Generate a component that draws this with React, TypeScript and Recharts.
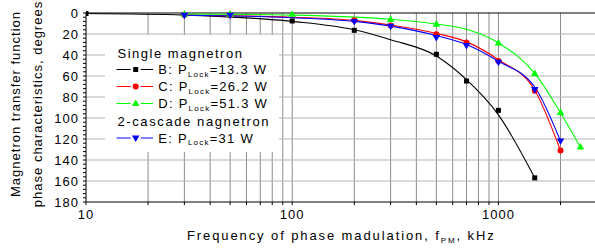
import { ComposedChart, Line, Scatter, XAxis, YAxis, ReferenceLine, Legend } from 'recharts';

// x ticks (kHz, log axis)
const xLabels = [10, 100, 1000];
const xTicks = [10, 20, 30, 40, 50, 60, 70, 80, 90, 100, 200, 300, 400, 500, 600, 700, 800, 900, 1000, 2000];
// y ticks (degrees, reversed)
const yLabels = [0, 20, 40, 60, 80, 100, 120, 140, 160, 180];
const yTicks = Array.from({ length: 46 }, (_, i) => i * 4);

// measured points
const ptsB = [
  { f: 10, v: 0.5 }, { f: 100, v: 7.6 }, { f: 200, v: 16.5 }, { f: 500, v: 39.3 },
  { f: 700, v: 64.8 }, { f: 1000, v: 92.7 }, { f: 1500, v: 157 },
];
const ptsC = [
  { f: 30, v: 2 }, { f: 50, v: 2.2 }, { f: 200, v: 7 }, { f: 300, v: 12 }, { f: 500, v: 20.3 },
  { f: 700, v: 28.2 }, { f: 1000, v: 45.7 }, { f: 1500, v: 74 }, { f: 2000, v: 131 },
];
const ptsD = [
  { f: 30, v: 1 }, { f: 50, v: 1 }, { f: 100, v: 1.2 }, { f: 300, v: 6 }, { f: 500, v: 10.5 },
  { f: 1000, v: 28.5 }, { f: 1500, v: 57.7 }, { f: 2000, v: 94.6 }, { f: 2500, v: 127.6 },
];
const ptsE = [
  { f: 30, v: 2.2 }, { f: 50, v: 2.2 }, { f: 200, v: 8.2 }, { f: 300, v: 12.7 }, { f: 500, v: 23.4 },
  { f: 700, v: 31 }, { f: 1000, v: 47 }, { f: 1500, v: 73 }, { f: 2000, v: 122 },
];

// fitted curves
const fitB = [
  { f: 10, v: 0.5 }, { f: 30, v: 2 }, { f: 100, v: 8 }, { f: 200, v: 16 }, { f: 300, v: 25.5 },
  { f: 500, v: 41 }, { f: 700, v: 63.5 }, { f: 1000, v: 97 }, { f: 1500, v: 157 },
];
const fitC = [
  { f: 30, v: 2 }, { f: 100, v: 4 }, { f: 200, v: 7 }, { f: 300, v: 11.5 }, { f: 500, v: 19.5 },
  { f: 700, v: 27.5 }, { f: 1000, v: 44.5 }, { f: 1500, v: 73.5 }, { f: 2000, v: 131 },
];
const fitD = [
  { f: 30, v: 1 }, { f: 100, v: 2 }, { f: 300, v: 6 }, { f: 500, v: 10.5 }, { f: 700, v: 15.5 },
  { f: 1000, v: 28.5 }, { f: 1500, v: 57.5 }, { f: 2000, v: 95 }, { f: 2500, v: 128 },
];
const fitE = [
  { f: 30, v: 2.2 }, { f: 100, v: 4.5 }, { f: 200, v: 8 }, { f: 300, v: 12.5 }, { f: 500, v: 21.5 },
  { f: 700, v: 30 }, { f: 1000, v: 46 }, { f: 1500, v: 70.5 }, { f: 2000, v: 122 },
];

const FONT = '"Liberation Sans", Arial, sans-serif';
const BLACK = '#000000';
const RED = '#ff0000';
const GREEN = '#00ff00';
const BLUE = '#0000ff';

const square = (c: string) => (p: any) => (
  <rect x={p.cx - 2.5} y={p.cy - 2.5} width={5} height={5} fill={c} />
);
const circle = (c: string) => (p: any) => <circle cx={p.cx} cy={p.cy} r={3} fill={c} />;
const triUp = (c: string) => (p: any) => (
  <polygon points={`${p.cx},${p.cy - 4} ${p.cx + 3.8},${p.cy + 2.6} ${p.cx - 3.8},${p.cy + 2.6}`} fill={c} />
);
const triDown = (c: string) => (p: any) => (
  <polygon points={`${p.cx},${p.cy + 4} ${p.cx + 3.8},${p.cy - 2.6} ${p.cx - 3.8},${p.cy - 2.6}`} fill={c} />
);

const YTick = (p: any) => {
  const { x, y, payload } = p;
  const major = yLabels.includes(payload.value);
  return (
    <g>
      <line x1={x - 3} x2={x} y1={y} y2={y} stroke={BLACK} />
      {major && (
        <text x={x - 7} y={y + 4.5} textAnchor="end" fontSize={13} letterSpacing={1} fill="#000" fontFamily={FONT}>
          {payload.value}
        </text>
      )}
    </g>
  );
};

const XTick = (p: any) => {
  const { x, y, payload } = p;
  const major = xLabels.includes(payload.value);
  return (
    <g>
      <line x1={x} x2={x} y1={y} y2={y + 3} stroke={BLACK} />
      {major && (
        <text x={x} y={y + 17} textAnchor="middle" fontSize={13} letterSpacing={1} fill="#000" fontFamily={FONT}>
          {payload.value}
        </text>
      )}
    </g>
  );
};

const legendRows = [
  { key: 'B', label: 'B: P', val: '=13.3 W', color: BLACK, y: 34.5, kind: 'sq' },
  { key: 'C', label: 'C: P', val: '=26.2 W', color: RED, y: 51.5, kind: 'ci' },
  { key: 'D', label: 'D: P', val: '=51.3 W', color: GREEN, y: 68.5, kind: 'up' },
  { key: 'E', label: 'E: P', val: '=31 W', color: BLUE, y: 103, kind: 'dn' },
];

const LegendBox = () => (
  <svg width={174} height={117} style={{ display: 'block', background: '#fff' }}>
    <g fontFamily={FONT} fontSize={13} fill="#000">
      <text x={12.5} y={22.5} letterSpacing={1.5}>Single magnetron</text>
      <text x={12.5} y={90.7} letterSpacing={1.6}>2-cascade nagnetron</text>
      {legendRows.map((r) => {
        const mx = 30.7;
        return (
          <g key={r.key}>
            <line x1={11.5} x2={mx - 5} y1={r.y} y2={r.y} stroke={r.color} />
            <line x1={mx + 5} x2={48} y1={r.y} y2={r.y} stroke={r.color} />
            {r.kind === 'sq' && square(r.color)({ cx: mx, cy: r.y })}
            {r.kind === 'ci' && circle(r.color)({ cx: mx, cy: r.y })}
            {r.kind === 'up' && triUp(r.color)({ cx: mx, cy: r.y })}
            {r.kind === 'dn' && triDown(r.color)({ cx: mx, cy: r.y })}
            <text x={53.3} y={r.y + 4.5} letterSpacing={1.25}>
              {r.label}
              <tspan fontSize={8} dy={2.5}>Lock</tspan>
              <tspan fontSize={13} dy={-2.5}>{r.val}</tspan>
            </text>
          </g>
        );
      })}
    </g>
  </svg>
);

export default function App() {
  return (
    <div style={{ position: 'absolute', left: 0, top: 0, width: 595, height: 250, background: '#fff' }}>
      <ComposedChart width={595} height={250} margin={{ top: 13, right: 0, bottom: 0, left: 0 }}>
        <XAxis
          dataKey="f"
          type="number"
          scale="log"
          domain={[10, 2940]}
          allowDataOverflow
          ticks={xTicks}
          interval={0}
          tick={XTick}
          tickLine={false}
          tickSize={0}
          tickMargin={0}
          height={48}
          axisLine={{ stroke: BLACK }}
        />
        <YAxis
          dataKey="v"
          type="number"
          domain={[0, 180]}
          reversed
          ticks={yTicks}
          interval={0}
          tick={YTick}
          tickLine={false}
          tickSize={0}
          tickMargin={0}
          width={86}
          axisLine={{ stroke: BLACK }}
        />
        {xTicks.filter((t) => t !== 10).map((t) => (
          <ReferenceLine key={'vx' + t} x={t} stroke="#8c8c8c" strokeWidth={1} />
        ))}
        {yLabels.filter((t) => t !== 0 && t !== 180).map((t) => (
          <ReferenceLine key={'hy' + t} y={t} stroke="#b4b4b4" strokeWidth={1.2} />
        ))}
        <ReferenceLine y={0} stroke={BLACK} strokeWidth={1} />
        <Line data={fitB} dataKey="v" type="monotone" stroke={BLACK} strokeWidth={1.1} dot={false} isAnimationActive={false} />
        <Line data={fitC} dataKey="v" type="monotone" stroke={RED} strokeWidth={1.1} dot={false} isAnimationActive={false} />
        <Line data={fitD} dataKey="v" type="monotone" stroke={GREEN} strokeWidth={1.1} dot={false} isAnimationActive={false} />
        <Line data={fitE} dataKey="v" type="monotone" stroke={BLUE} strokeWidth={1.1} dot={false} isAnimationActive={false} />
        <Scatter data={ptsB} dataKey="v" shape={square(BLACK)} isAnimationActive={false} />
        <Scatter data={ptsC} dataKey="v" shape={circle(RED)} isAnimationActive={false} />
        <Scatter data={ptsD} dataKey="v" shape={triUp(GREEN)} isAnimationActive={false} />
        <Scatter data={ptsE} dataKey="v" shape={triDown(BLUE)} isAnimationActive={false} />
        <Legend
          layout="horizontal"
          verticalAlign="middle"
          align="center"
          content={LegendBox}
          wrapperStyle={{ left: 105, top: 35, width: 174, height: 117 }}
        />
      </ComposedChart>
      <svg
        width={595}
        height={250}
        style={{ position: 'absolute', left: 0, top: 0, pointerEvents: 'none' }}
      >
        <g fontFamily={FONT} fontSize={13} fill="#000">
          <text transform="translate(20,104) rotate(-90)" textAnchor="middle" letterSpacing={1}>Magnetron transfer function</text>
          <text transform="translate(41.5,104) rotate(-90)" textAnchor="middle" letterSpacing={1}>phase characteristics, degrees</text>
          <text x={187} y={240} letterSpacing={1.9}>
            Frequency of phase madulation, f
            <tspan fontSize={8} dy={2.5}>PM</tspan>
            <tspan fontSize={13} dy={-2.5}>, kHz</tspan>
          </text>
        </g>
      </svg>
    </div>
  );
}
